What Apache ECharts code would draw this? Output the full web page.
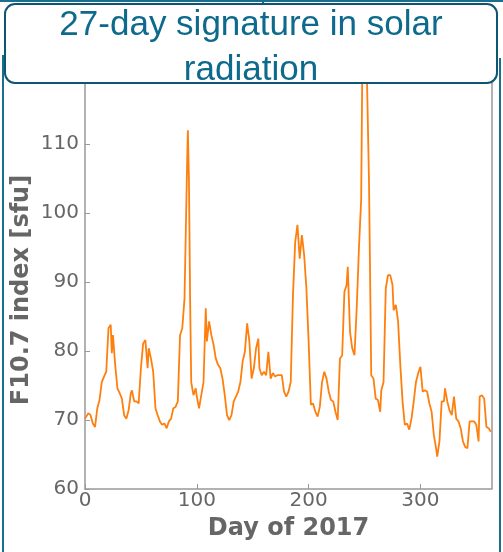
<!DOCTYPE html>
<html>
<head>
<meta charset="utf-8">
<script src="https://cdn.jsdelivr.net/npm/echarts@6/dist/echarts.min.js"></script>
<style>html,body{margin:0;padding:0;background:#fff}</style>
</head>
<body>
<div id="main" style="width:503px;height:552px;"></div>
<script>
var days = [0,3,5,7,9,11,13,15,17,19,21,23,24,25,27,29,31,33,35,37,39,41,42,44,46,48,50,52,54,56,57,59,61,63,65,67,69,71,73,75,77,79,81,83,85,87,89,91,92,93,94,95,97,99,100,102,104,106,108,109,111,113,115,117,119,121,123,125,127,129,131,133,135,137,139,141,143,145,147,149,151,153,155,156,158,160,162,164,166,168,170,172,174,176,178,180,182,184,186,188,190,192,194,196,198,200,202,204,206,208,210,212,214,216,218,220,222,224,226,228,230,232,234,235,237,239,241,243,245,247,248,250,252,254,256,258,260,262,264,265,267,269,271,273,275,276,278,280,282,284,286,288,290,292,294,296,298,300,302,304,306,308,310,312,314,315,317,319,321,322,324,326,328,330,332,334,336,338,340,342,344,346,348,350,352,353,355,357,359,361,363];
var f107 = [70.2,71,70.7,69.5,69,71.7,72.9,75.5,76.3,77,83.3,83.8,79.7,82.3,78,74.6,73.9,73.1,70.7,70.2,71.4,73.9,74.3,72.7,72.7,72.4,77.5,81.1,81.6,77.5,80.4,78.9,77,71.7,70.7,69.8,69.3,69.5,68.8,69.8,70.2,71.7,71.9,72.7,82.3,83.3,87.6,104.5,112,104.5,87.6,75.5,73.6,74.6,73.4,71.7,73.6,75.5,86.2,81.4,84.3,82.3,80.9,78.9,78,77.5,76,73.6,70.7,70,70.7,72.7,73.4,74.1,75.5,78.5,79.9,84,81.4,76,77.5,80.4,81.8,77.5,76.5,77,76.5,79.9,76,76.8,76.3,76.5,76.5,76.5,74.1,73.4,74.1,75.5,88.1,95.8,98.3,93.4,96.8,93.9,89.1,81.4,72.2,72.4,71.2,70.5,71.9,75.5,77,76,74.1,72.9,72.7,71.2,70,78.9,79.4,88.6,89.6,92.2,82.8,80.4,79.4,86.2,94.9,102,121,126,121,104.5,76.5,76,73.1,72.9,71.2,74.3,75.5,89.1,91,91,89.6,85.9,86.7,84.3,78,72.7,69.3,69.5,68.6,70.2,72.7,75.5,76.8,77.7,74.1,74.3,74.1,72.4,71.2,67.8,65.9,64.7,66.9,72.7,72.7,74.6,72.7,71.4,70.7,73.4,70.2,69.8,68.8,66.9,66.1,65.9,69.8,69.8,69.8,69.3,66.9,73.4,73.6,73.1,69,68.8,68.3];
var yTicks = [60, 110, 10];
var xTicks = [0, 364, 100];

var pts = days.map(function (d, i) { return [d, f107[i]]; });
var grey = '#666';
var chart = echarts.init(document.getElementById('main'));
chart.setOption({
  animation: false,
  grid: { left: 85, right: 11, top: 82, bottom: 63, outerBoundsMode: 'none', containLabel: false },
  xAxis: {
    type: 'value', min: xTicks[0], max: xTicks[1], interval: xTicks[2],
    name: 'Day of 2017', nameLocation: 'middle', nameGap: 28,
    nameTextStyle: { color: grey, fontSize: 24, fontWeight: 'bold', fontFamily: 'DejaVu Sans' },
    axisLine: { lineStyle: { color: '#999', width: 1.5 } },
    axisTick: { inside: true, length: 5, lineStyle: { color: '#999' } },
    axisLabel: { color: grey, fontSize: 20, fontFamily: 'DejaVu Sans', showMaxLabel: false, margin: 2 },
    splitLine: { show: false }
  },
  yAxis: {
    type: 'value', min: yTicks[0], max: 119, interval: yTicks[2],
    axisLine: { show: true, lineStyle: { color: '#999', width: 1.5 } },
    axisTick: { show: true, inside: true, length: 5, lineStyle: { color: '#999' } },
    axisLabel: { color: grey, fontSize: 20, fontFamily: 'DejaVu Sans', showMaxLabel: false, margin: 6 },
    splitLine: { show: false }
  },
  series: [{
    type: 'line', data: pts, showSymbol: false, clip: true,
    lineStyle: { color: '#ff7f0e', width: 1.8 }
  }],
  graphic: [
    { type: 'text', x: 22, y: 290, rotation: Math.PI / 2,
      style: { text: 'F10.7 index [sfu]', fill: grey, fontSize: 24, fontWeight: 'bold',
        fontFamily: 'DejaVu Sans', align: 'center', verticalAlign: 'middle' } },
    { type: 'line', shape: { x1: 492, y1: 82, x2: 492, y2: 489 }, style: { stroke: '#999', lineWidth: 1.5 } },
    { type: 'line', shape: { x1: 3, y1: 55, x2: 3, y2: 552 }, style: { stroke: '#1a6e8e', lineWidth: 2 } },
    { type: 'line', shape: { x1: 500, y1: 58, x2: 500, y2: 552 }, style: { stroke: '#1a6e8e', lineWidth: 2 } },
    { type: 'line', shape: { x1: 0, y1: 1, x2: 503, y2: 1 }, style: { stroke: '#1a6e8e', lineWidth: 2 } },
    { type: 'line', shape: { x1: 263, y1: 0, x2: 263, y2: 6 }, style: { stroke: '#1a6e8e', lineWidth: 2 } },
    { type: 'rect', z: 100, shape: { x: 5, y: 4, width: 492, height: 79, r: 10 },
      style: { fill: '#fff', stroke: '#0d5573', lineWidth: 2 } },
    { type: 'text', z: 101, x: 251, y: 3,
      style: { text: '27-day signature in solar\nradiation', fill: '#0e6a8c', fontSize: 35,
        fontFamily: 'Liberation Sans', align: 'center', verticalAlign: 'top', lineHeight: 45 } }
  ]
});
</script>
</body>
</html>
